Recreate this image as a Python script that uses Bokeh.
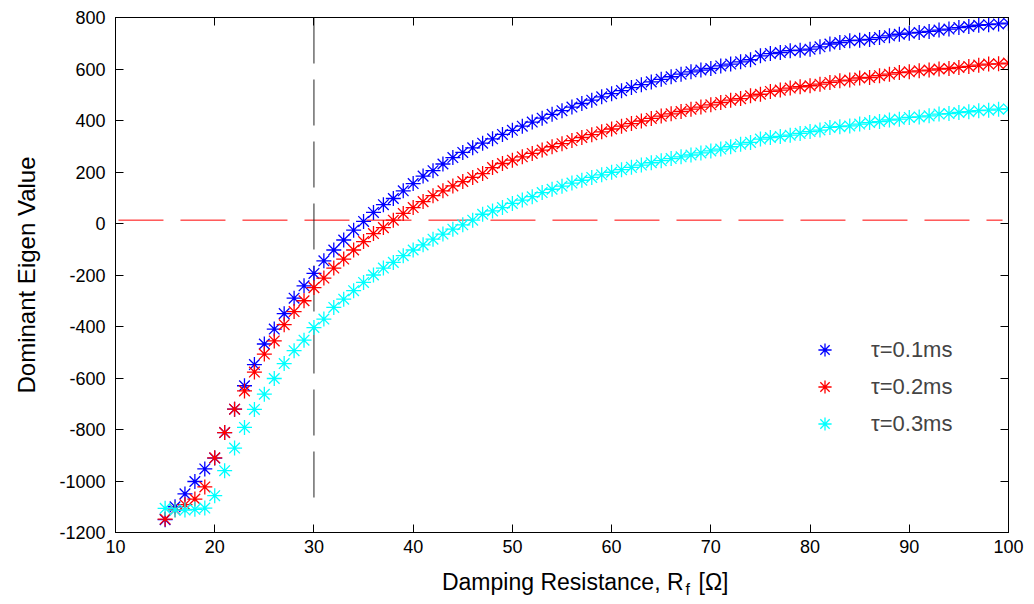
from bokeh.plotting import figure
from bokeh.models import Range1d, LinearAxis, Legend, LegendItem, FixedTicker
from bokeh.embed import file_html
from bokeh.resources import INLINE
from bokeh.core.properties import value

# ---------------- data ----------------
rf = list(range(15, 101))

tau_01 = [-1150, -1100, -1050, -1002, -953, -911, -812, -721, -630, -548,
          -468, -410, -350, -290, -242, -194, -145, -103, -64, -26,
          8, 43, 73, 97, 127, 155, 184, 205, 231, 256,
          276, 294, 312, 329, 346, 362, 378, 394, 409, 424,
          438, 452, 466, 479, 492, 504, 516, 528, 539, 550,
          560, 570, 580, 589, 596, 602, 612, 619, 628, 636,
          651, 660, 664, 671, 673, 677, 686, 697, 703, 710,
          712, 715, 722, 729, 735, 739, 742, 746, 751, 755,
          761, 765, 770, 772, 775, 778]

tau_02 = [-1148, -1112, -1092, -1070, -1023, -910, -812, -721, -650, -577,
          -507, -456, -393, -342, -300, -249, -212, -173, -138, -103,
          -70, -39, -16, 13, 39, 62, 85, 108, 127, 146,
          163, 179, 194, 217, 233, 246, 259, 272, 285, 298,
          310, 322, 334, 345, 356, 367, 378, 388, 398, 408,
          417, 426, 435, 444, 452, 461, 470, 479, 485, 496,
          502, 513, 518, 526, 531, 535, 541, 548, 554, 557,
          565, 567, 574, 580, 586, 589, 593, 596, 600, 602,
          606, 610, 615, 619, 620, 623]

tau_03 = [-1106, -1113, -1113, -1110, -1105, -1057, -960, -872, -792, -722,
          -663, -602, -544, -494, -453, -404, -371, -326, -294, -261,
          -229, -200, -173, -151, -125, -103, -83, -61, -41, -22,
          -5, 13, 36, 49, 62, 78, 91, 104, 120, 133,
          145, 157, 168, 179, 189, 199, 209, 218, 227, 236,
          244, 252, 259, 266, 274, 282, 289, 298, 308, 315,
          328, 334, 338, 343, 350, 357, 363, 373, 376, 379,
          386, 392, 396, 402, 405, 412, 414, 418, 425, 427,
          431, 434, 438, 440, 444, 445]

series_labels = ["\u03c4=0.1ms", "\u03c4=0.2ms", "\u03c4=0.3ms"]
series_colors = ["#0000ff", "#ff0000", "#00ffff"]

x_ticks = list(range(10, 101, 10))
y_ticks = list(range(-1200, 801, 200))

critical_rf = 30
critical_y = [800, -1080]
zero_line_y = 13
zero_line_x = [10.3, 99.4]

xlabel_main = "Damping Resistance, R"
xlabel_sub = "f"
xlabel_unit = "[\u03a9]"

FONT = "Liberation Sans"

# ---------------- figure ----------------
p = figure(width=1034, height=604, output_backend="svg", toolbar_location=None,
           x_range=Range1d(10, 100), y_range=Range1d(-1200, 800),
           min_border_left=115, min_border_right=26, min_border_top=17,
           min_border_bottom=72, background_fill_color="white",
           border_fill_color="white")
p.xgrid.visible = False
p.ygrid.visible = False
p.outline_line_color = "black"
p.outline_line_width = 1
p.outline_line_alpha = 1

bottom = p.xaxis[0]
left = p.yaxis[0]
top = LinearAxis(major_label_text_font_size="0px", major_label_standoff=0,
                 major_label_text_color=None, ticker=FixedTicker(ticks=x_ticks))
right = LinearAxis(major_label_text_font_size="0px", major_label_standoff=0,
                   major_label_text_color=None, ticker=FixedTicker(ticks=y_ticks))
p.add_layout(top, "above")
p.add_layout(right, "right")

bottom.ticker = FixedTicker(ticks=x_ticks)
left.ticker = FixedTicker(ticks=y_ticks)
left.major_label_overrides = {v: str(v) for v in y_ticks}

for ax in [bottom, left, top, right]:
    ax.major_tick_in = 8
    ax.major_tick_out = 0
    ax.minor_tick_line_color = None
    ax.axis_line_color = "black"
    ax.major_tick_line_color = "black"

for ax in [bottom, left]:
    ax.major_label_text_font = FONT
    ax.major_label_text_font_size = "18px"
    ax.major_label_text_color = "black"
bottom.major_label_standoff = 7
left.major_label_standoff = 10

left.axis_label = "Dominant Eigen Value"
left.axis_label_text_font = FONT
left.axis_label_text_font_size = "24px"
left.axis_label_text_font_style = "normal"
left.axis_label_text_color = "black"
left.axis_label_standoff = 16

# reference lines
p.line(zero_line_x, [zero_line_y, zero_line_y], line_color="#ff0000", line_width=1,
       line_dash="45 17")
p.line([critical_rf, critical_rf], critical_y, line_color="#222222", line_width=1,
       line_dash="46 16")

renderers = []
for ys, col in zip([tau_01, tau_02, tau_03], series_colors):
    r = p.scatter(rf, ys, marker="asterisk", size=15, line_color=col, line_width=1.3)
    renderers.append(r)

legend = Legend(items=[LegendItem(label=l, renderers=[r]) for l, r in zip(series_labels, renderers)],
                location=(693, 92), border_line_color=None, background_fill_alpha=0,
                label_text_font=FONT, label_text_font_size="22px",
                glyph_width=33, glyph_height=33, label_height=20, spacing=4,
                padding=0, margin=0, label_standoff=30)
p.add_layout(legend)

# x-axis label with subscript (text glyphs drawn above the frame clip)
p.text(x=[67.25], y=[-1200], text=[xlabel_main], y_offset=49,
       text_align="right", text_baseline="alphabetic",
       text_font=value(FONT), text_font_size="23px", text_color="black", level="overlay")
p.text(x=[67.45], y=[-1200], text=[xlabel_sub], y_offset=57,
       text_align="left", text_baseline="alphabetic",
       text_font=value(FONT), text_font_size="16px", text_color="black", level="overlay")
p.text(x=[68.76], y=[-1200], text=[xlabel_unit], y_offset=49,
       text_align="left", text_baseline="alphabetic",
       text_font=value(FONT), text_font_size="23px", text_color="black", level="overlay")

open("out.html", "w").write(file_html(p, INLINE))
